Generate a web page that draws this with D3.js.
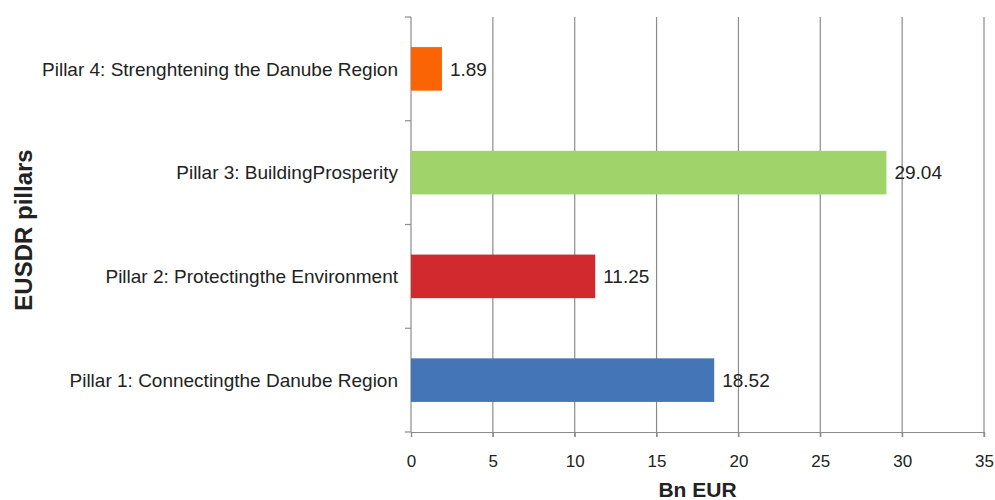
<!DOCTYPE html>
<html>
<head>
<meta charset="utf-8">
<script src="https://cdn.jsdelivr.net/npm/d3@7"></script>
<style>
  body { margin: 0; background: #fff; }
  text { font-family: "Liberation Sans", Arial, sans-serif; }
</style>
</head>
<body>
<div id="chart"></div>
<script>
// data
var pillars = [
  "Pillar 1: Connectingthe Danube Region",
  "Pillar 2: Protectingthe Environment",
  "Pillar 3: BuildingProsperity",
  "Pillar 4: Strenghtening the Danube Region"
];
var amounts = [18.52, 11.25, 29.04, 1.89];
var barColors = ["#4375b7", "#d2292e", "#a0d46a", "#fb6405"];
var xTicks = [0, 5, 10, 15, 20, 25, 30, 35];

var margin = { top: 17, right: 11, bottom: 68, left: 411 };
var width = 995 - margin.left - margin.right;
var height = 500 - margin.top - margin.bottom;

var svg = d3.select('#chart')
  .append('svg')
  .attr('width', 995)
  .attr('height', 500)
  .append('g')
  .attr('transform', 'translate(' + margin.left + ',' + margin.top + ')');

var x = d3.scaleLinear().domain([0, 35]).range([0, width]);

// pillar 4 on top, pillar 1 at the bottom
var y = d3.scaleBand()
  .domain(pillars.slice().reverse())
  .range([0, height])
  .paddingInner(0.58)
  .paddingOuter(0.29);

// vertical grid lines
svg.selectAll('.grid')
  .data(xTicks.slice(1))
  .enter().append('line')
  .attr('class', 'grid')
  .attr('x1', d => x(d)).attr('x2', d => x(d))
  .attr('y1', 0).attr('y2', height + 5)
  .attr('stroke', '#8c8c8c')
  .attr('stroke-width', 1.2);

// x axis
var xAxis = svg.append('g')
  .attr('transform', 'translate(0,' + height + ')')
  .call(d3.axisBottom(x).tickValues(xTicks).tickSize(5).tickPadding(18));
xAxis.select('.domain').attr('stroke', '#8c8c8c').attr('stroke-width', 1.2);
xAxis.selectAll('line').attr('stroke', '#8c8c8c').attr('stroke-width', 1.2);
xAxis.selectAll('text').attr('font-size', 17).attr('fill', '#222');

// y axis: ticks between categories
var bandStep = height / pillars.length;
svg.append('line')
  .attr('x1', 0).attr('x2', 0)
  .attr('y1', 0).attr('y2', height)
  .attr('stroke', '#8c8c8c').attr('stroke-width', 1.2);
svg.selectAll('.ytick')
  .data(d3.range(pillars.length + 1))
  .enter().append('line')
  .attr('x1', -6).attr('x2', 0)
  .attr('y1', d => d * bandStep).attr('y2', d => d * bandStep)
  .attr('stroke', '#8c8c8c').attr('stroke-width', 1.2);

// category labels
svg.selectAll('.ylabel')
  .data(pillars)
  .enter().append('text')
  .attr('x', -13)
  .attr('y', d => y(d) + y.bandwidth() / 2)
  .attr('dy', '0.35em')
  .attr('text-anchor', 'end')
  .attr('font-size', 19)
  .attr('fill', '#222')
  .text(d => d);

// bars
svg.selectAll('.bar')
  .data(pillars)
  .enter().append('rect')
  .attr('x', 0)
  .attr('y', d => y(d))
  .attr('width', (d, i) => x(amounts[i]))
  .attr('height', y.bandwidth())
  .attr('fill', (d, i) => barColors[i]);

// value labels
svg.selectAll('.val')
  .data(pillars)
  .enter().append('text')
  .attr('x', (d, i) => x(amounts[i]) + 8)
  .attr('y', d => y(d) + y.bandwidth() / 2)
  .attr('dy', '0.35em')
  .attr('font-size', 19)
  .attr('fill', '#222')
  .text((d, i) => amounts[i].toFixed(2));

// axis titles
svg.append('text')
  .attr('x', x(17.5))
  .attr('y', 497 - margin.top)
  .attr('text-anchor', 'middle')
  .attr('font-size', 21)
  .attr('font-weight', 'bold')
  .attr('fill', '#222')
  .text('Bn EUR');

svg.append('text')
  .attr('transform', 'rotate(-90)')
  .attr('x', -(230 - margin.top))
  .attr('y', 32 - margin.left)
  .attr('text-anchor', 'middle')
  .attr('font-size', 24)
  .attr('font-weight', 'bold')
  .attr('fill', '#222')
  .text('EUSDR pillars');
</script>
</body>
</html>
